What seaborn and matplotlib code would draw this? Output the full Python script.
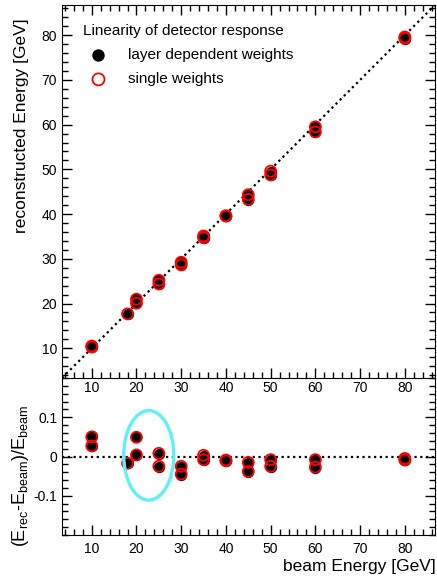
import numpy as np
import pandas as pd
import seaborn as sns
from matplotlib import pyplot as plt
from matplotlib.patches import Ellipse
from matplotlib.ticker import MultipleLocator, FormatStrFormatter

# beam energies (two runs per energy, one at 18 GeV)
beam_energy = [10, 10, 18, 20, 20, 25, 25, 30, 30, 35, 35, 40, 40, 45, 45, 50, 50, 60, 60, 80, 80]
# reconstructed energies, layer dependent weights
reco_layer = [10.52, 10.26, 17.68, 21.00, 20.06, 25.18, 24.35, 29.19, 28.62, 35.04, 34.65,
              39.68, 39.52, 44.24, 43.20, 49.50, 48.65, 59.40, 58.26, 79.52, 79.20]
# reconstructed energies, single weights
reco_single = [10.50, 10.27, 17.69, 20.98, 20.08, 25.20, 24.38, 29.25, 28.65, 35.11, 34.72,
               39.64, 39.56, 44.33, 43.29, 49.60, 48.75, 59.52, 58.38, 79.60, 79.28]

labels = ["layer dependent weights", "single weights"]
legend_title = "Linearity of detector response"

# highlighted region in residual panel
ellipse_center = (22.75, 0.003)
ellipse_size = (11.2, 0.228)

XLIM = (3.35, 86.75)
FONT = "Liberation Sans"

sns.set_style(
    "ticks",
    rc={
        "xtick.direction": "in",
        "ytick.direction": "in",
        "axes.edgecolor": "black",
        "axes.linewidth": 1.3,
        "xtick.color": "black",
        "ytick.color": "black",
        "text.color": "black",
        "axes.labelcolor": "black",
    },
)
plt.rcParams["font.family"] = [FONT, "DejaVu Sans"]
plt.rcParams["mathtext.fontset"] = "custom"
plt.rcParams["mathtext.rm"] = FONT
plt.rcParams["mathtext.it"] = FONT + ":italic"
plt.rcParams["axes.unicode_minus"] = False

df = pd.DataFrame({"beam": beam_energy, "layer": reco_layer, "single": reco_single})
df["dev_layer"] = (df["layer"] - df["beam"]) / df["beam"]
df["dev_single"] = (df["single"] - df["beam"]) / df["beam"]

W, H = 437, 576
fig = plt.figure(figsize=(W / 100, H / 100), dpi=100)
ax_top = fig.add_axes([62 / W, 1 - 378 / H, 373 / W, 373 / H])
ax_bot = fig.add_axes([62 / W, 1 - 535 / H, 373 / W, 157 / H])

blk = dict(color="black", s=66, linewidth=0, zorder=3)
red = dict(facecolor="none", edgecolor="red", s=62, linewidth=1.3, zorder=4)

# upper: linearity
ax_top.axline((10, 10), slope=1, color="black", ls=(0, (1, 1.6)), lw=1.6, zorder=2)
sns.scatterplot(data=df, x="beam", y="layer", ax=ax_top, label=labels[0], **blk)
sns.scatterplot(data=df, x="beam", y="single", ax=ax_top, label=labels[1], **red)
ax_top.set_xlim(*XLIM)
ax_top.set_ylim(*XLIM)
ax_top.set_xlabel("")
ax_top.set_ylabel("")

# lower: residuals
ax_bot.axhline(0, color="black", ls=(0, (1, 1.6)), lw=1.6, zorder=2)
sns.scatterplot(data=df, x="beam", y="dev_layer", ax=ax_bot, legend=False, **blk)
sns.scatterplot(data=df, x="beam", y="dev_single", ax=ax_bot, legend=False, **red)
ax_bot.add_patch(
    Ellipse(ellipse_center, ellipse_size[0], ellipse_size[1], fill=False,
            edgecolor="#5ff0fa", linewidth=2.4, zorder=5)
)
ax_bot.set_xlim(*XLIM)
ax_bot.set_ylim(-0.2, 0.2)
ax_bot.set_yticks([-0.1, 0, 0.1])
ax_bot.yaxis.set_major_formatter(FormatStrFormatter("%g"))
ax_bot.set_xlabel("")
ax_bot.set_ylabel("")

for ax in (ax_top, ax_bot):
    ax.xaxis.set_major_locator(MultipleLocator(10))
    ax.xaxis.set_minor_locator(MultipleLocator(2))
    ax.tick_params(which="major", length=7, width=1.0, labelsize=10)
    ax.tick_params(which="minor", length=4, width=1.0)
    ax.tick_params(axis="y", which="both", left=True, right=True)
ax_top.yaxis.set_major_locator(MultipleLocator(10))
ax_top.yaxis.set_minor_locator(MultipleLocator(2))
ax_top.tick_params(axis="x", which="both", top=True, bottom=True, pad=2)
ax_top.set_xticks([10, 20, 30, 40, 50, 60, 70, 80])
ax_bot.yaxis.set_minor_locator(MultipleLocator(0.02))
ax_bot.tick_params(axis="x", which="both", top=False, bottom=True, pad=5)
ax_bot.spines["top"].set_visible(False)
ax_top.set_zorder(1)
ax_top.patch.set_alpha(0)

leg = ax_top.legend(
    title=legend_title,
    loc="upper left",
    bbox_to_anchor=(0.02, 0.987),
    frameon=False,
    fontsize=11,
    title_fontsize=11,
    alignment="left",
    handletextpad=0.9,
    labelspacing=0.68,
    markerscale=1.1,
)

fig.text(22 / W, 1 - 18 / H, "reconstructed Energy [GeV]", rotation=90,
         ha="center", va="top", fontsize=12.5)
fig.text(21 / W, 1 - 476 / H, r"(E$_{\mathrm{rec}}$-E$_{\mathrm{beam}}$)/E$_{\mathrm{beam}}$",
         rotation=90, ha="center", va="center", fontsize=13)
fig.text(436 / W, 1 - 566 / H, "beam Energy [GeV]", ha="right", va="center", fontsize=12.5)

fig.savefig("out.png", dpi=100)
